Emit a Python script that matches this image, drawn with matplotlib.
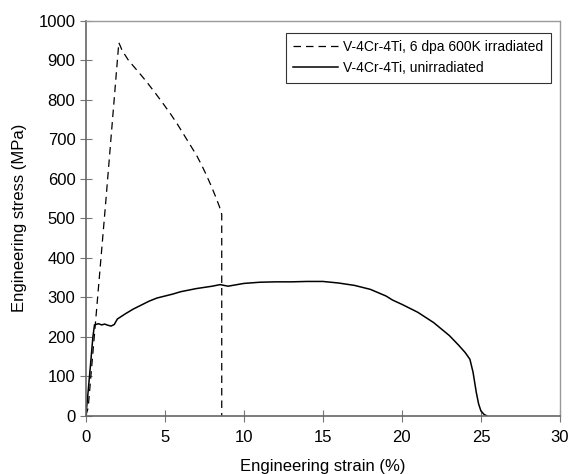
import numpy as np
import matplotlib.pyplot as plt

plt.rcParams['font.family'] = ['Liberation Sans', 'DejaVu Sans']

# irradiated (dashed) curve
strain_irr = [0.0, 0.15, 0.6, 1.27, 2.09, 2.3, 2.7, 3.3, 3.8, 4.4, 4.9, 5.4,
              5.8, 6.2, 6.6, 7.0, 7.3, 7.6, 7.9, 8.2, 8.45, 8.6, 8.6]
stress_irr = [0, 20, 230, 545, 945, 925, 900, 872, 848, 817, 790, 762,
              738, 712, 686, 660, 637, 612, 585, 556, 530, 510, 0]

# unirradiated (solid) curve
strain_un = [0.0, 0.1, 0.3, 0.45, 0.55, 0.8, 1.0, 1.2, 1.4, 1.6, 1.8, 2.0,
             2.5, 3.0, 3.5, 4.0, 4.5, 5.0, 5.5, 6.0, 7.0, 8.0, 8.5, 9.0,
             10.0, 11.0, 12.0, 13.0, 14.0, 15.0, 16.0, 17.0, 18.0, 19.0,
             19.4, 20.0, 21.0, 22.0, 23.0, 23.6, 24.0, 24.3, 24.5, 24.7,
             24.85, 25.0, 25.2, 25.36]
stress_un = [0, 40, 130, 200, 230, 233, 230, 232, 229, 227, 231, 245,
             258, 270, 280, 290, 298, 303, 308, 314, 322, 328, 332, 328,
             335, 338, 339, 339, 340, 340, 336, 330, 320, 303,
             293, 282, 262, 236, 203, 178, 160, 143, 110, 60,
             30, 12, 3, 0]

fig = plt.figure(figsize=(5.72, 4.74), dpi=100)
ax = fig.add_axes([0.150, 0.123, 0.829, 0.833])

ax.plot(strain_irr, stress_irr, color='black', lw=0.9, ls=(0, (6, 4)),
        label='V-4Cr-4Ti, 6 dpa 600K irradiated')
ax.plot(strain_un, stress_un, color='black', lw=1.1,
        label='V-4Cr-4Ti, unirradiated')

ax.set_xlim(0, 30)
ax.set_ylim(0, 1000)
ax.set_xticks(np.arange(0, 31, 5))
ax.set_yticks(np.arange(0, 1001, 100))
ax.tick_params(direction='inout', length=9, width=0.8, color='#777777',
               labelsize=12)
ax.tick_params(axis='x', pad=6)
ax.tick_params(axis='y', pad=3)

for s in ['left', 'bottom']:
    ax.spines[s].set_color('#666666')
    ax.spines[s].set_linewidth(1.2)
for s in ['top', 'right']:
    ax.spines[s].set_color('#999999')
    ax.spines[s].set_linestyle((0, (1, 1)))
    ax.spines[s].set_linewidth(1.0)

ax.set_xlabel('Engineering strain (%)', fontsize=12, labelpad=10)
ax.set_ylabel('Engineering stress (MPa)', fontsize=12, labelpad=8)

leg = ax.legend(loc='upper right', bbox_to_anchor=(0.981, 0.97),
                borderaxespad=0, fontsize=10, frameon=True, fancybox=False,
                handlelength=3.2, handletextpad=0.4, borderpad=0.55,
                labelspacing=0.5)
leg.get_frame().set_edgecolor('black')
leg.get_frame().set_linewidth(0.8)

fig.savefig('out.png', dpi=100, facecolor='white')
